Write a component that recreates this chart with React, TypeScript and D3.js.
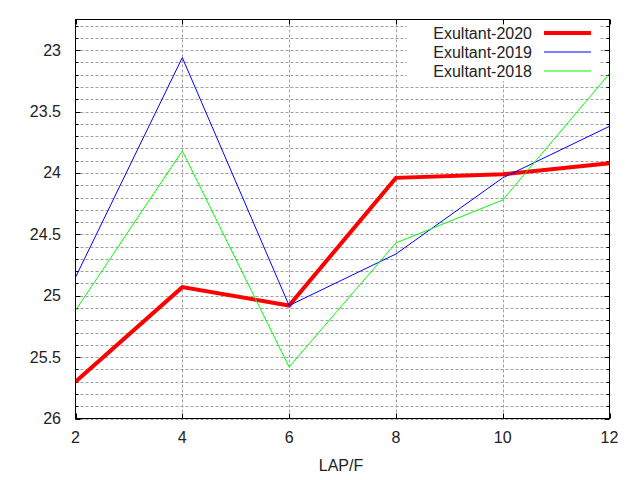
import React from "react";
import * as d3 from "d3";

const laps = [2, 4, 6, 8, 10, 12];
const series2020 = [25.7, 24.93, 25.08, 24.04, 24.01, 23.92];
const series2019 = [24.85, 23.06, 25.08, 24.66, 24.04, 23.62];
const series2018 = [25.12, 23.82, 25.58, 24.57, 24.22, 23.19];
const seriesNames = ["Exultant-2020", "Exultant-2019", "Exultant-2018"];
const xTicks = [2, 4, 6, 8, 10, 12];
const yTicks = [23, 23.5, 24, 24.5, 25, 25.5, 26];
const yMinor = d3.range(22.8, 26.001, 0.1).map((v) => Math.round(v * 10) / 10);

const W = 640;
const H = 480;
const left = 75.5;
const right = 609.5;
const top = 19.5;
const bottom = 418.5;

export default function App() {
  const x = d3.scaleLinear().domain([2, 12]).range([left, right]);
  const y = d3.scaleLinear().domain([22.75, 26]).range([top, bottom]);
  const line = d3
    .line<number>()
    .x((_, i) => x(laps[i]))
    .y((d) => y(d));

  const series = [
    { name: seriesNames[0], values: series2020, color: "#ff0000", width: 4 },
    { name: seriesNames[1], values: series2019, color: "#0000ff", width: 1 },
    { name: seriesNames[2], values: series2018, color: "#00ff00", width: 1 },
  ];

  const font = "'Liberation Sans', Arial, sans-serif";
  const grid = "#a0a0a0";

  return (
    <svg
      width={W}
      height={H}
      style={{ position: "absolute", left: 0, top: 0, background: "#fff" }}
      fontFamily={font}
      fontSize={16}
    >
      <defs>
        <clipPath id="plot">
          <rect x={left} y={top} width={right - left} height={bottom - top} />
        </clipPath>
      </defs>
      <rect x={0} y={0} width={W} height={H} fill="#fff" />
      {/* horizontal grid (major + minor) */}
      {yMinor.map((v) => (
        <line
          key={"hg" + v}
          x1={left}
          x2={right}
          y1={Math.round(y(v)) + 0.5}
          y2={Math.round(y(v)) + 0.5}
          stroke={grid}
          strokeWidth={1}
          strokeDasharray="3,2"
        />
      ))}
      {/* vertical grid */}
      {xTicks.slice(1, -1).map((v) => (
        <line
          key={"vg" + v}
          x1={Math.round(x(v)) + 0.5}
          x2={Math.round(x(v)) + 0.5}
          y1={top}
          y2={bottom}
          stroke={grid}
          strokeWidth={1}
          strokeDasharray="3,2"
        />
      ))}
      {/* legend background */}
      <rect x={407} y={top + 0.5} width={193} height={61} fill="#fff" />
      {/* ticks */}
      {yMinor.map((v) => {
        const major = yTicks.includes(v);
        const len = major ? 5 : 3;
        const yy = Math.round(y(v)) + 0.5;
        return (
          <g key={"yt" + v}>
            <line x1={left} x2={left + len} y1={yy} y2={yy} stroke="#000" />
            <line x1={right - len} x2={right} y1={yy} y2={yy} stroke="#000" />
          </g>
        );
      })}
      {xTicks.map((v) => {
        const xx = Math.round(x(v)) + 0.5;
        return (
          <g key={"xt" + v}>
            <line x1={xx} x2={xx} y1={bottom} y2={bottom - 5} stroke="#000" />
            <line x1={xx} x2={xx} y1={top} y2={top + 5} stroke="#000" />
          </g>
        );
      })}
      {/* data lines */}
      <g clipPath="url(#plot)">
        {series.map((s) => (
          <path
            key={s.name}
            d={line(s.values) || ""}
            fill="none"
            stroke={s.color}
            strokeWidth={s.width}
            strokeLinejoin="miter"
          />
        ))}
      </g>
      {/* border */}
      <rect
        x={left}
        y={top}
        width={right - left}
        height={bottom - top}
        fill="none"
        stroke="#000"
        strokeWidth={1}
      />
      {/* y tick labels */}
      {yTicks.map((v) => (
        <text key={"yl" + v} x={61} y={y(v) + 5.5} textAnchor="end" fill="#222">
          {String(v)}
        </text>
      ))}
      {/* x tick labels */}
      {xTicks.map((v) => (
        <text key={"xl" + v} x={x(v)} y={443} textAnchor="middle" fill="#222">
          {String(v)}
        </text>
      ))}
      <text x={341} y={471} textAnchor="middle" fill="#222">
        LAP/F
      </text>
      {/* legend */}
      {series.map((s, i) => {
        const ly = 33 + i * 19;
        return (
          <g key={"lg" + s.name}>
            <text x={532} y={ly + 5.5} textAnchor="end" fill="#222">
              {s.name}
            </text>
            <line x1={544} x2={591} y1={ly} y2={ly} stroke={s.color} strokeWidth={s.width} />
          </g>
        );
      })}
    </svg>
  );
}
